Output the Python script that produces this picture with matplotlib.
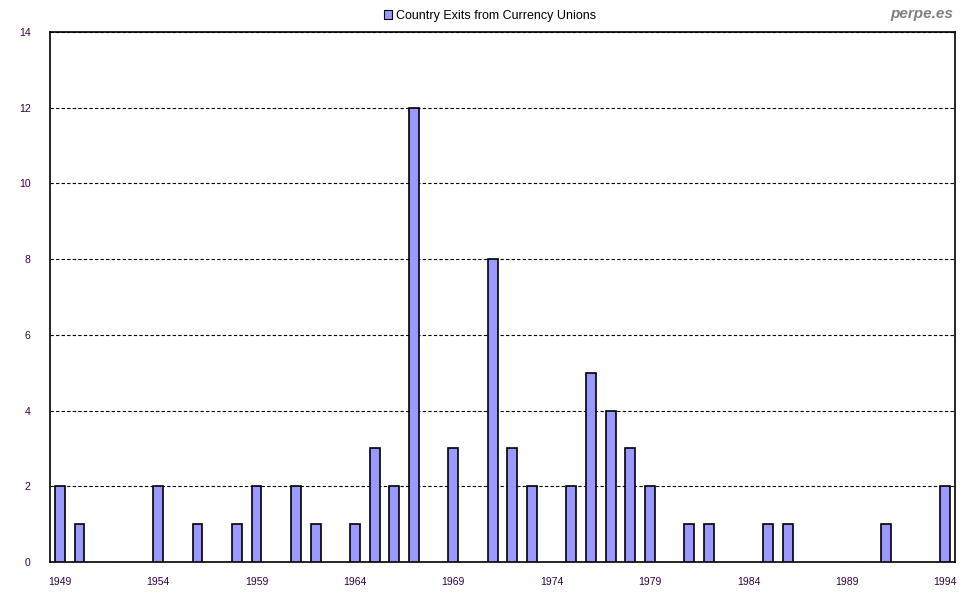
import matplotlib.pyplot as plt
from matplotlib.patches import Patch

years = [1949, 1950, 1954, 1956, 1958, 1959, 1961, 1962, 1964, 1965, 1966, 1967,
         1969, 1971, 1972, 1973, 1975, 1976, 1977, 1978, 1979, 1981, 1982, 1985,
         1986, 1991, 1994]
exits = [2, 1, 2, 1, 1, 2, 2, 1, 1, 3, 2, 12,
         3, 8, 3, 2, 2, 5, 4, 3, 2, 1, 1, 1,
         1, 1, 2]
tick_years = list(range(1949, 1995, 5))
y_ticks = list(range(0, 15, 2))

plt.rcParams['font.family'] = ['Liberation Sans', 'DejaVu Sans']

fig = plt.figure(figsize=(9.8, 6), dpi=100)
ax = fig.add_axes([50/980, 38/600, 905/980, 530/600])

ax.bar(years, exits, width=0.5, color='#9999ff', edgecolor='black', linewidth=1.2, zorder=3)

ax.set_xlim(1948.5, 1994.5)
ax.set_ylim(0, 14)
ax.set_yticks(y_ticks)
ax.set_xticks(tick_years)
ax.set_xticklabels([str(y) for y in tick_years])
ax.tick_params(axis='both', length=0, labelsize=7.5, labelcolor='#300040')
ax.tick_params(axis='x', pad=11)
ax.tick_params(axis='y', pad=14)

ax.yaxis.grid(True, linestyle=(0, (3, 2)), color='black', linewidth=0.8, zorder=1)
for s in ax.spines.values():
    s.set_color('black')
    s.set_linewidth(1.2)

handle = Patch(facecolor='#9999ff', edgecolor='black', linewidth=0.8)
fig.legend([handle], ['Country Exits from Currency Unions'], loc='center',
           bbox_to_anchor=(0.5, 1 - 16/600), frameon=False, fontsize=9,
           handlelength=0.7, handleheight=0.7, handletextpad=0.3)

fig.text(953/980, 1 - 14/600, 'perpe.es', ha='right', va='center', fontsize=11,
         fontweight='bold', fontstyle='italic', color='#808080')

fig.savefig('out.png', dpi=100)
